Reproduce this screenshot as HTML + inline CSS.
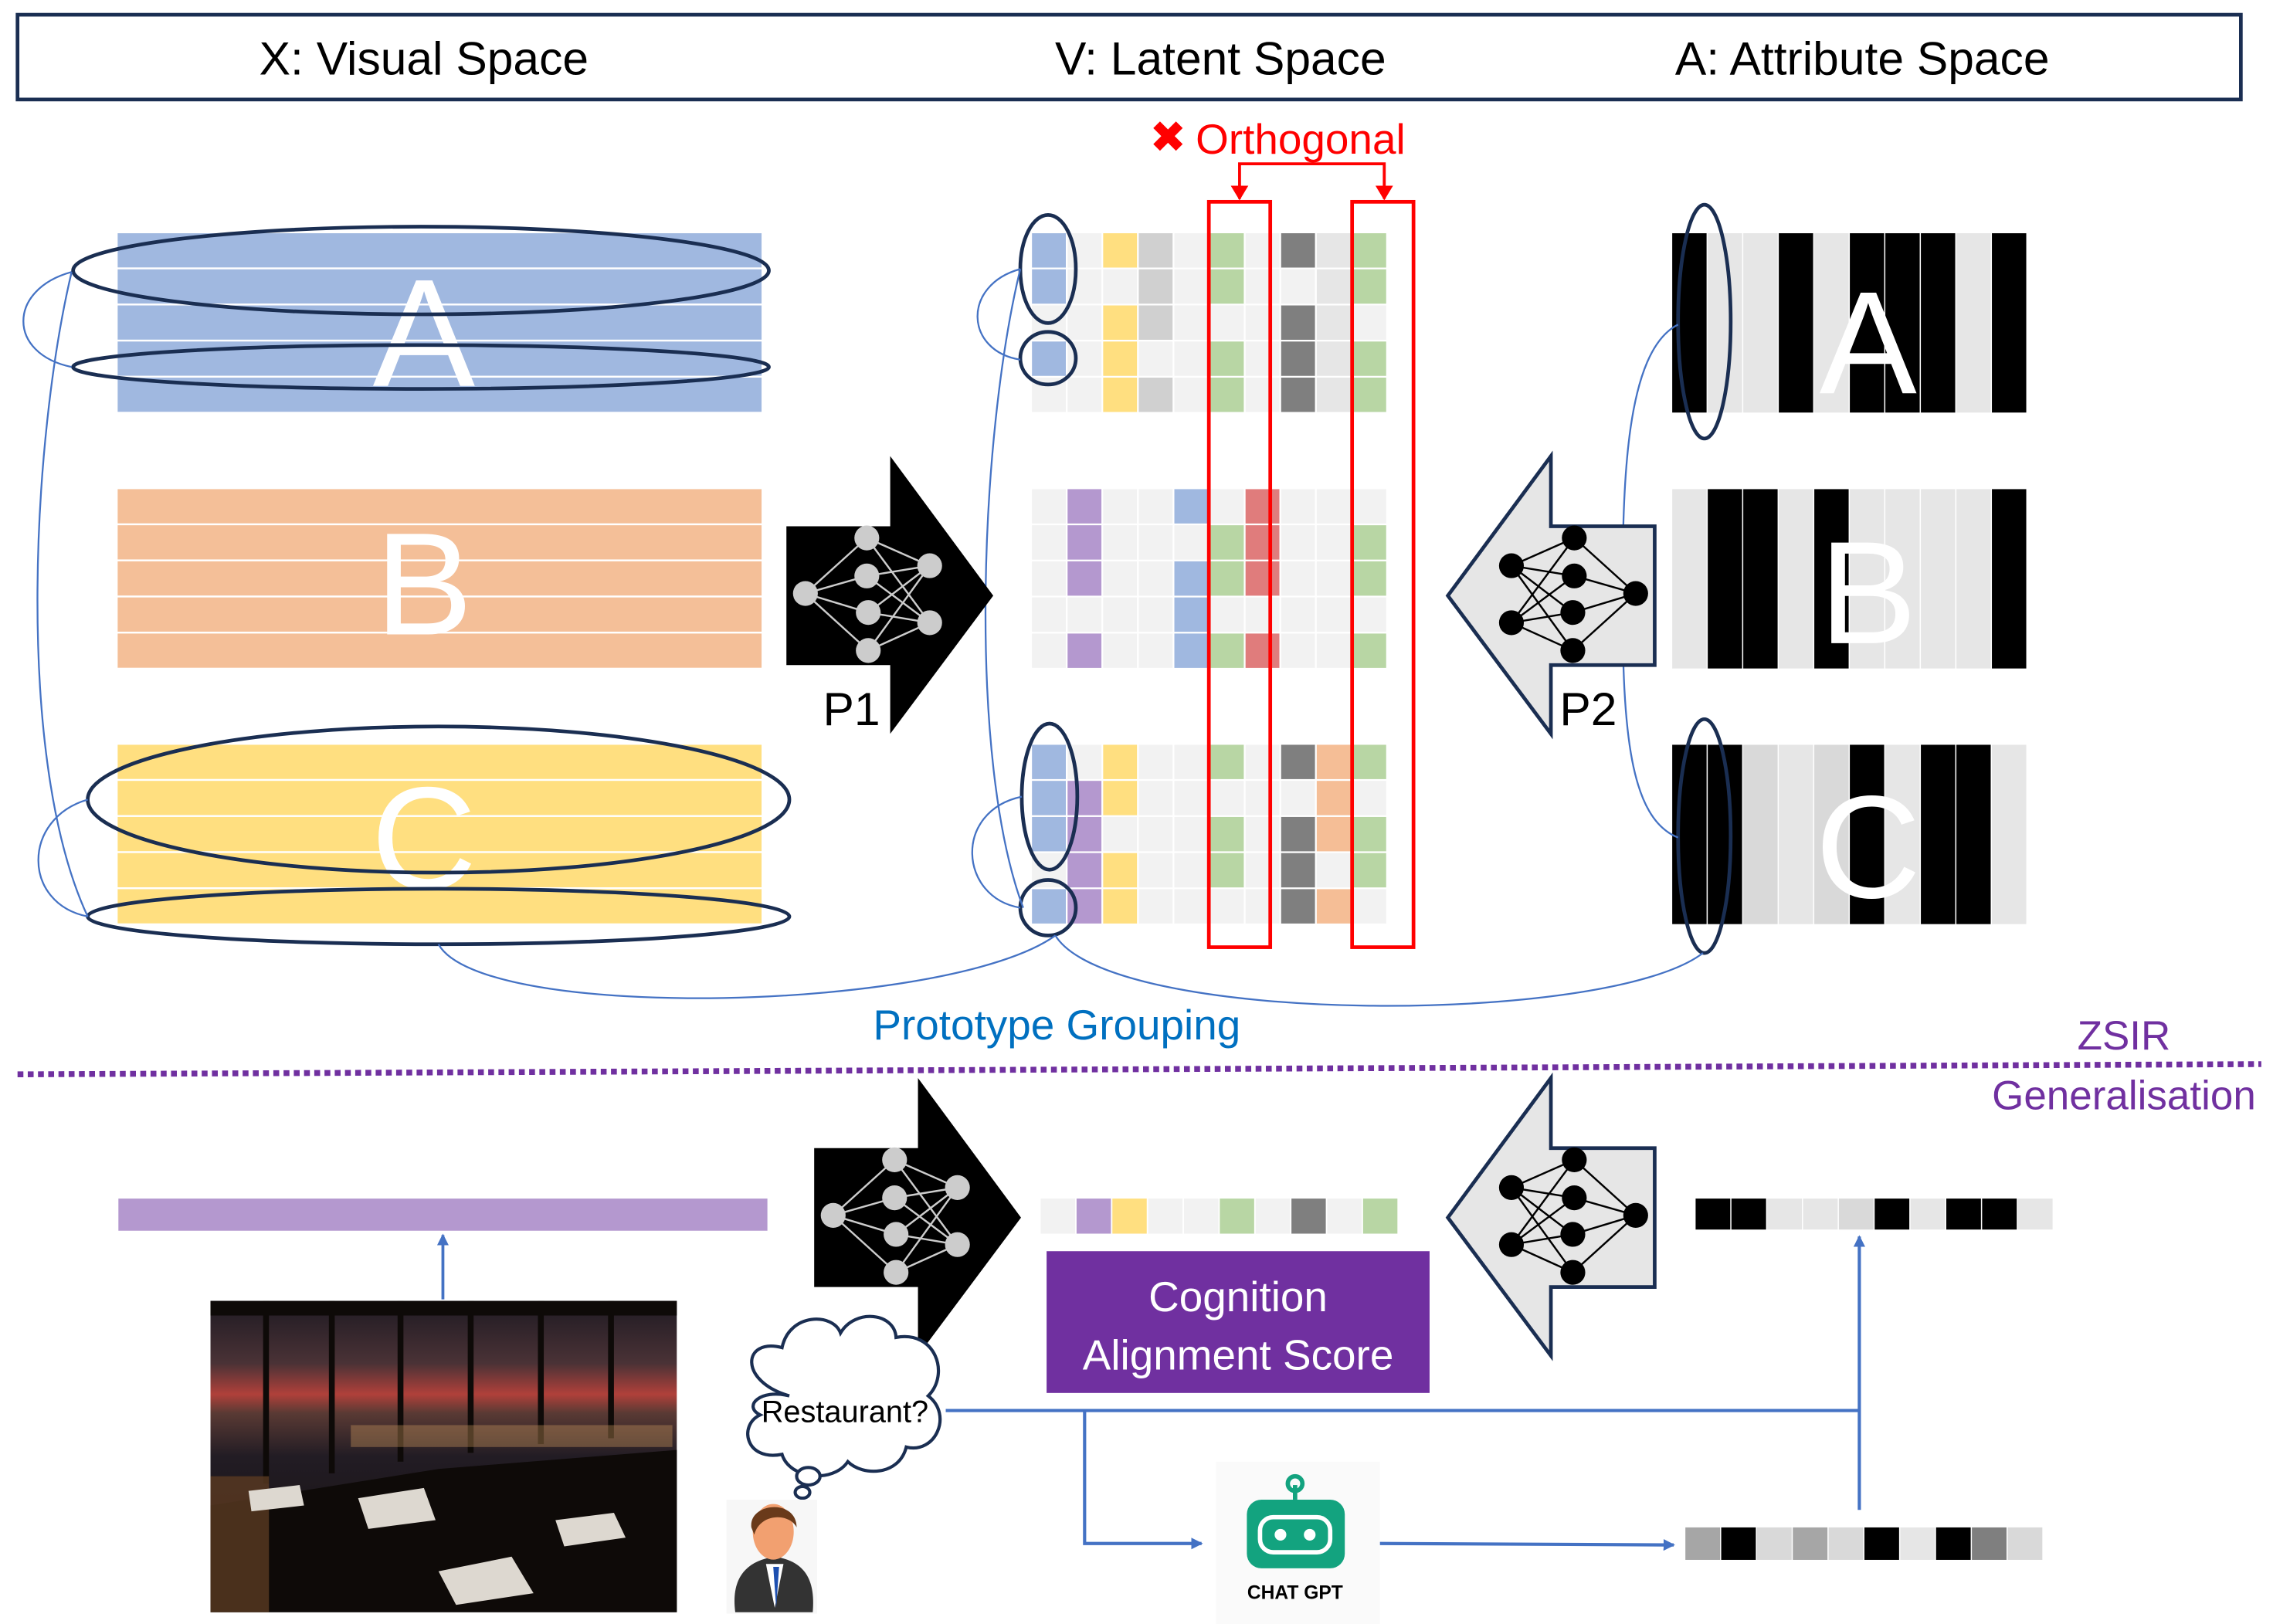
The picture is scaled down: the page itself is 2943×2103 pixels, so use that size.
<!DOCTYPE html>
<html><head><meta charset="utf-8">
<style>
html,body{margin:0;padding:0;background:#fff;}
svg{display:block;}
text{font-family:"Liberation Sans",sans-serif;}
</style></head>
<body>
<svg id="s" width="2943" height="2103" viewBox="0 0 1555 1111" xmlns="http://www.w3.org/2000/svg">
<defs>
<marker id="ab" markerWidth="8" markerHeight="8" refX="7" refY="4" orient="auto" markerUnits="userSpaceOnUse"><path d="M0,0 L8,4 L0,8z" fill="#4472c4"/></marker>
<linearGradient id="sky" x1="0" y1="0" x2="0" y2="1">
<stop offset="0" stop-color="#1e1a22"/><stop offset="0.2" stop-color="#4a3236"/><stop offset="0.3" stop-color="#b0403a"/><stop offset="0.36" stop-color="#5a3a34"/><stop offset="0.5" stop-color="#221c24"/><stop offset="1" stop-color="#140e0a"/>
</linearGradient>
</defs>
<rect width="1555" height="1111" fill="#fff"/>
<rect x="12" y="10" width="1521" height="58" fill="none" stroke="#1a2e52" stroke-width="2.5"/>
<text x="290" y="51" font-size="32" text-anchor="middle">X: Visual Space</text>
<text x="835" y="51" font-size="32" text-anchor="middle">V: Latent Space</text>
<text x="1274" y="51" font-size="32" text-anchor="middle">A: Attribute Space</text>

<g id="vis"></g>
<text x="290" y="264" font-size="105" fill="#fff" text-anchor="middle">A</text>
<text x="290" y="434" font-size="100" fill="#fff" text-anchor="middle">B</text>
<text x="290" y="608" font-size="100" fill="#fff" text-anchor="middle">C</text>
<g fill="none" stroke="#1a2e52" stroke-width="2.5">
<ellipse cx="288" cy="185" rx="238" ry="30"/>
<ellipse cx="288" cy="251" rx="238" ry="15"/>
<ellipse cx="300" cy="547" rx="240" ry="50"/>
<ellipse cx="300" cy="627" rx="240" ry="19"/>
</g>

<g id="cells"></g>
<text x="1278" y="269" font-size="100" fill="#fff" text-anchor="middle" font-family="Liberation Serif">A</text>
<text x="1278" y="440" font-size="100" fill="#fff" text-anchor="middle" font-family="Liberation Serif">B</text>
<text x="1278" y="614" font-size="100" fill="#fff" text-anchor="middle" font-family="Liberation Serif">C</text>

<g fill="none" stroke="#1a2e52" stroke-width="2.5">
<ellipse cx="717" cy="184" rx="19" ry="37"/>
<ellipse cx="717" cy="245" rx="19" ry="18"/>
<ellipse cx="718" cy="545" rx="19" ry="50"/>
<ellipse cx="717" cy="621" rx="19" ry="19"/>
<ellipse cx="1166" cy="220" rx="18" ry="80"/>
<ellipse cx="1166" cy="572" rx="18" ry="80"/>
</g>

<rect x="827" y="138" width="42" height="510" fill="none" stroke="#ff0000" stroke-width="2.5"/>
<rect x="925" y="138" width="42" height="510" fill="none" stroke="#ff0000" stroke-width="2.5"/>
<path d="M848,136 V112 H947 V136" fill="none" stroke="#ff0000" stroke-width="2"/>
<path d="M842,127 L848,137 L854,127z M941,127 L947,137 L953,127z" fill="#ff0000"/>
<text x="799" y="104" font-size="30" fill="#ff0000" text-anchor="middle">✖</text>
<text x="818" y="105" font-size="29" fill="#ff0000">Orthogonal</text>

<g fill="none" stroke="#4472c4" stroke-width="1.2">
<path d="M49,186 C5,198 5,242 49,251"/>
<path d="M49,186 C22,300 10,520 60,627"/>
<path d="M60,547 C15,560 15,618 60,627"/>
<path d="M698,184 C658,195 660,240 698,246"/>
<path d="M698,184 C670,300 662,520 700,621"/>
<path d="M699,545 C652,555 656,614 698,621"/>
<path d="M1148,222 C1112,240 1110,330 1110,410 C1110,500 1115,560 1148,573"/>
<path d="M300,646 C330,700 650,692 722,640"/>
<path d="M722,640 C760,702 1100,702 1165,652"/>
</g>

<path d="M538,360 H609 V312 L679.5,407.5 L609,502 V455 H538z" fill="#000"/>
<path d="M1132,360 H1061 V312 L990.5,407.5 L1061,502 V455 H1132z" fill="#e6e6e6" stroke="#1a2e52" stroke-width="2.5"/>
<path d="M557,785.5 H628 V737.5 L698.5,833 L628,927.5 V880.5 H557z" fill="#000"/>
<path d="M1132,785.5 H1061 V737.5 L990.5,833 L1061,927.5 V880.5 H1132z" fill="#e6e6e6" stroke="#1a2e52" stroke-width="2.5"/>
<g id="nets"></g>
<text x="563" y="496" font-size="32">P1</text>
<text x="1067" y="496" font-size="32">P2</text>

<text x="723" y="711" font-size="29" fill="#0070c0" text-anchor="middle">Prototype Grouping</text>
<text x="1453" y="718" font-size="28" fill="#7030a0" text-anchor="middle">ZSIR</text>
<line x1="12" y1="735" x2="1547" y2="728" stroke="#7030a0" stroke-width="4" stroke-dasharray="4 3"/>
<text x="1453" y="759" font-size="28" fill="#7030a0" text-anchor="middle">Generalisation</text>

<rect x="81" y="820" width="444" height="22" fill="#b498cf"/>
<line x1="303" y1="889" x2="303" y2="845" stroke="#4472c4" stroke-width="2" marker-end="url(#ab)"/>
<!-- photo -->
<rect x="144" y="890" width="319" height="213" fill="url(#sky)"/>
<g fill="#0e0a08">
<rect x="144" y="890" width="319" height="10"/>
<rect x="180" y="890" width="4" height="125"/><rect x="225" y="890" width="4" height="118"/><rect x="272" y="890" width="4" height="110"/><rect x="320" y="890" width="4" height="104"/><rect x="368" y="890" width="4" height="98"/><rect x="416" y="890" width="4" height="94"/>
<path d="M144,1030 L300,1005 L463,992 L463,1103 L144,1103z"/>
</g>
<g fill="#d8a060" opacity="0.35"><rect x="240" y="975" width="220" height="15"/></g>
<g fill="#5a3a22" opacity="0.8"><rect x="144" y="1010" width="40" height="93"/></g>
<g fill="#ddd8d0"><path d="M170,1020 L205,1016 L208,1030 L172,1034z"/><path d="M245,1025 L290,1018 L298,1040 L252,1046z"/><path d="M300,1075 L350,1065 L365,1090 L312,1098z"/><path d="M380,1040 L420,1035 L428,1052 L386,1058z"/></g>

<rect x="716" y="856" width="262" height="97" fill="#7030a0"/>
<text x="847" y="897" font-size="29" fill="#fff" text-anchor="middle">Cognition</text>
<text x="847" y="937" font-size="29" fill="#fff" text-anchor="middle">Alignment Score</text>

<g fill="none" stroke="#4472c4" stroke-width="2.2">
<path d="M647,965 H1272"/>
<path d="M742,965 V1056 H822" marker-end="url(#ab)"/>
<path d="M944,1056 L1145,1057" marker-end="url(#ab)"/>
<path d="M1272,1033 V846" marker-end="url(#ab)"/>
</g>

<g fill="#fff" stroke="#1a2e52" stroke-width="2.2">
<path d="M540,955 C505,945 508,915 535,922 C540,898 570,898 575,912 C585,895 612,898 613,915 C640,910 650,940 635,955 C652,968 640,995 620,990 C615,1010 590,1010 580,1000 C570,1015 540,1012 535,995 C510,1000 505,975 520,968 C508,962 520,950 540,955z"/>
<ellipse cx="553" cy="1010" rx="8" ry="6"/>
<ellipse cx="549" cy="1021" rx="5" ry="4"/>
</g>
<text x="578" y="973" font-size="21" text-anchor="middle">Restaurant?</text>

<rect x="497" y="1026" width="62" height="78" fill="#f7f7f7"/>
<path d="M503,1103 C500,1080 510,1068 530,1065 C550,1068 558,1080 556,1103z" fill="#333"/>
<path d="M524,1070 L530,1100 L536,1070z" fill="#fff"/><path d="M529,1072 L531,1100 L533,1072z" fill="#1d4fb0"/>
<ellipse cx="529" cy="1048" rx="14" ry="19" fill="#f2a070"/>
<path d="M514,1045 C512,1028 545,1025 545,1045 C540,1035 520,1035 516,1050z" fill="#6a3a1a"/>

<rect x="832" y="1000" width="112" height="112" fill="#fafafa"/>
<line x1="886" y1="1016" x2="886" y2="1026" stroke="#13a37f" stroke-width="3"/>
<circle cx="886" cy="1015" r="5" fill="none" stroke="#13a37f" stroke-width="3"/>
<rect x="853" y="1026" width="67" height="47" rx="10" fill="#13a37f"/>
<rect x="862" y="1038" width="48" height="24" rx="9" fill="none" stroke="#fff" stroke-width="3"/>
<circle cx="876" cy="1050" r="4" fill="#fff"/><circle cx="896" cy="1050" r="4" fill="#fff"/>
<text x="886" y="1094" font-size="13" font-weight="bold" text-anchor="middle">CHAT GPT</text>
</svg>
<script>
var C={L:"#f2f2f2",B:"#a0b8e0",Y:"#ffdf80",g:"#d0d0d0",G:"#b8d6a4",D:"#7f7f7f",E:"#e6e6e6",P:"#b498cf",R:"#e07c7c",O:"#f5be96",K:"#000000",H:"#d9d9d9",M:"#a6a6a6"};
var NS="http://www.w3.org/2000/svg";
function r(g,x,y,w,h,f){var e=document.createElementNS(NS,"rect");e.setAttribute("x",x);e.setAttribute("y",y);e.setAttribute("width",w);e.setAttribute("height",h);e.setAttribute("fill",f);g.appendChild(e);}
var cells=document.getElementById("cells");
function block(x0,y0,rows,cw,rh,gap){for(var i=0;i<rows.length;i++)for(var j=0;j<rows[i].length;j++)r(cells,x0+j*cw,y0+i*rh,cw-gap,rh-gap,C[rows[i][j]]);}
var tops=[159.5,334.6,509.5];
block(706,tops[0],["BLYgLGLDEG","BLLgLGLLEG","LLYgLLLDEL","BLYLLGLDEG","LLYgLGLDEG"],24.35,24.7,1.2);
block(706,tops[1],["LPLLBLRLLL","LPLLLGRLLG","LPLLBGRLLG","LLLLBLLLLL","LPLLBGRLLG"],24.35,24.7,1.2);
block(706,tops[2],["BLYLLGLDOG","BPYLLLLLOL","BPLLLGLDOG","LPYLLGLDLG","BPYLLLLDOL"],24.35,24.7,1.2);
block(1144,tops[0],["KEEKEKKKEK"],24.3,123.5,0.8);
block(1144,tops[1],["EKKEKEEEEK"],24.3,123.5,0.8);
block(1144,tops[2],["KKHEHKEKKE"],24.3,123.5,0.8);
block(712,820,["LPYLLGLDLG"],24.5,25,1);
block(1160,820,["KKEEHKEKKE"],24.5,22,0.8);
block(1153,1045,["MKHMHKEKDH"],24.5,23,0.8);
var vis=document.getElementById("vis");
var vc=["#a0b8e0","#f4bf98","#ffdf80"];
for(var b=0;b<3;b++){for(var i=0;i<5;i++)r(vis,80.5,tops[b]+i*24.7,440.5,23.4,vc[b]);}
var nets=document.getElementById("nets");
function net(dx,dy,mir,fill,lc){
 var n=[[551,406],[593,368],[593,394],[594,419],[594,445],[636,387],[636,426]];
 n=n.map(function(p){return [mir?1670-p[0]:p[0]+dx,p[1]+dy];});
 var ed=[[0,1],[0,2],[0,3],[0,4]];for(var a=1;a<5;a++){ed.push([a,5]);ed.push([a,6]);}
 ed.forEach(function(e){var l=document.createElementNS(NS,"line");l.setAttribute("x1",n[e[0]][0]);l.setAttribute("y1",n[e[0]][1]);l.setAttribute("x2",n[e[1]][0]);l.setAttribute("y2",n[e[1]][1]);l.setAttribute("stroke",lc);l.setAttribute("stroke-width","1.3");nets.appendChild(l);});
 n.forEach(function(p){var c=document.createElementNS(NS,"circle");c.setAttribute("cx",p[0]);c.setAttribute("cy",p[1]);c.setAttribute("r","8.5");c.setAttribute("fill",fill);nets.appendChild(c);});
}
net(0,0,false,"#cccccc","#cccccc");
net(0,0,true,"#000","#000");
net(19,425.5,false,"#cccccc","#cccccc");
net(0,425.5,true,"#000","#000");
</script>
</body></html>
